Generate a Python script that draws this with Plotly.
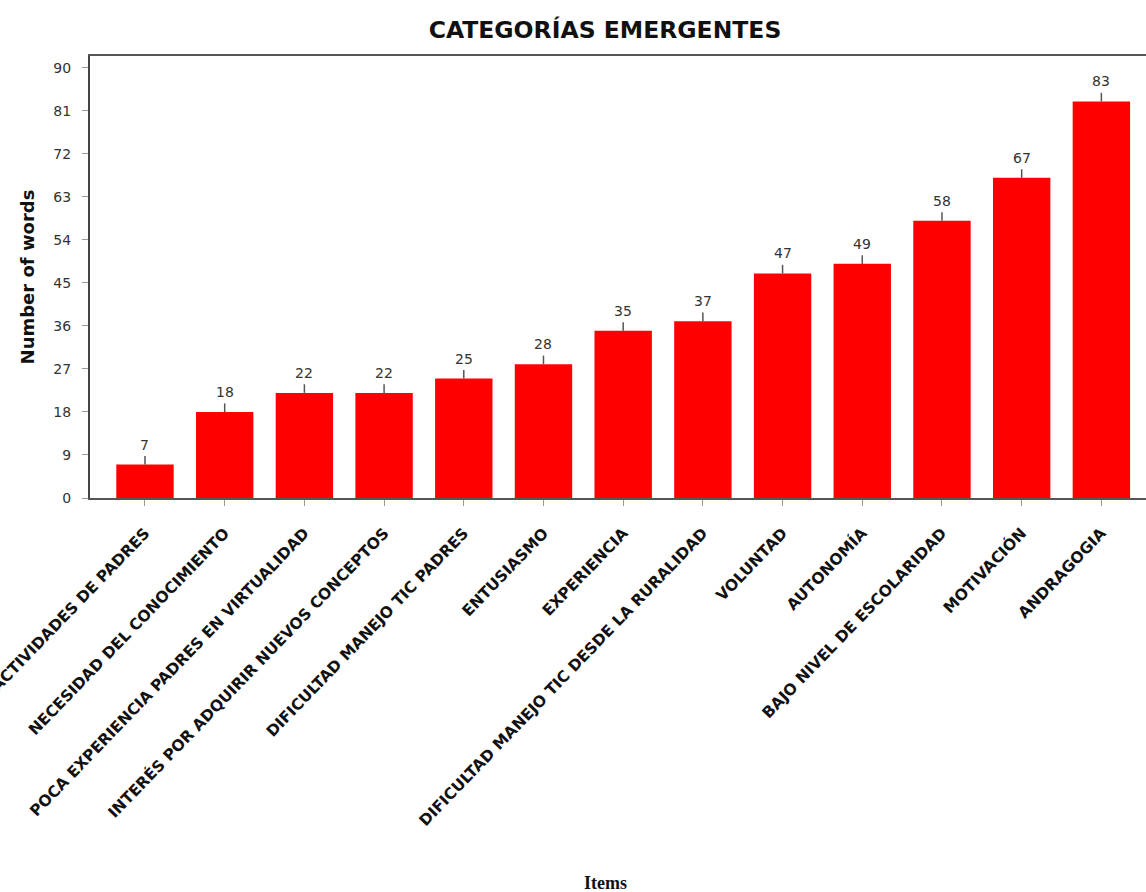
import plotly.graph_objects as go

categories = [
    "ACTIVIDADES DE PADRES",
    "NECESIDAD DEL CONOCIMIENTO",
    "POCA EXPERIENCIA PADRES EN VIRTUALIDAD",
    "INTERÉS POR ADQUIRIR NUEVOS CONCEPTOS",
    "DIFICULTAD MANEJO TIC PADRES",
    "ENTUSIASMO",
    "EXPERIENCIA",
    "DIFICULTAD MANEJO TIC DESDE LA RURALIDAD",
    "VOLUNTAD",
    "AUTONOMÍA",
    "BAJO NIVEL DE ESCOLARIDAD",
    "MOTIVACIÓN",
    "ANDRAGOGIA",
]
values = [7, 18, 22, 22, 25, 28, 35, 37, 47, 49, 58, 67, 83]
y_ticks = [0, 9, 18, 27, 36, 45, 54, 63, 72, 81, 90]

FONT = "Verdana, DejaVu Sans, sans-serif"

fig = go.Figure()
fig.add_trace(go.Bar(
    x=categories,
    y=values,
    marker=dict(color="#ff0000", line=dict(width=0)),
    width=0.72,
    error_y=dict(type="constant", value=1.8, symmetric=False, valueminus=0,
                 color="#555555", thickness=1.5, width=0),
    hoverinfo="x+y",
))

for c, v in zip(categories, values):
    fig.add_annotation(x=c, y=v, text=str(v), showarrow=False, yanchor="bottom",
                       yshift=10, font=dict(family=FONT, size=14, color="#333333"))

# x-axis title placed as a paper annotation (centred like the reference)
fig.add_annotation(xref="paper", yref="paper", x=(605 - 90) / 1056, y=-(883 - 498) / 442,
                   text="<b>Items</b>", showarrow=False, xanchor="center", yanchor="middle",
                   font=dict(family="Liberation Serif, serif", size=18, color="#111111"))

fig.update_layout(
    width=1146, height=892,
    margin=dict(l=90, r=0, t=56, b=394, autoexpand=False),
    paper_bgcolor="white", plot_bgcolor="white",
    showlegend=False,
    title=dict(text="<b>CATEGORÍAS EMERGENTES</b>", x=605 / 1146, xanchor="center",
               y=1 - 30 / 892, yanchor="middle",
               font=dict(family="DejaVu Sans, sans-serif", size=23.5, color="#111111")),
    bargap=0.28,
)
fig.update_xaxes(
    range=[-0.69, 12.56],
    tickangle=-46,
    tickfont=dict(family=FONT, size=15.5, color="#111111", weight="bold"),
    ticks="outside", ticklen=6, tickcolor="#999999",
    showline=True, linecolor="#555555", linewidth=2, mirror=True,
    ticklabelstandoff=12,
    automargin=False,
    showgrid=False,
)
fig.update_yaxes(
    range=[0, 92.5],
    tickvals=y_ticks,
    tickfont=dict(family=FONT, size=14, color="#333333"),
    ticks="outside", ticklen=6, tickcolor="#999999",
    ticklabelstandoff=8,
    showline=True, linecolor="#444444", linewidth=2,
    showgrid=False, zeroline=False,
    automargin=False,
    title=dict(text="<b>Number of words</b>", font=dict(family=FONT, size=18, color="#111111"), standoff=14),
)

fig.write_html("out.html", config={"displayModeBar": False},
               post_script="document.body.style.margin='0';document.body.style.overflow='hidden';")
